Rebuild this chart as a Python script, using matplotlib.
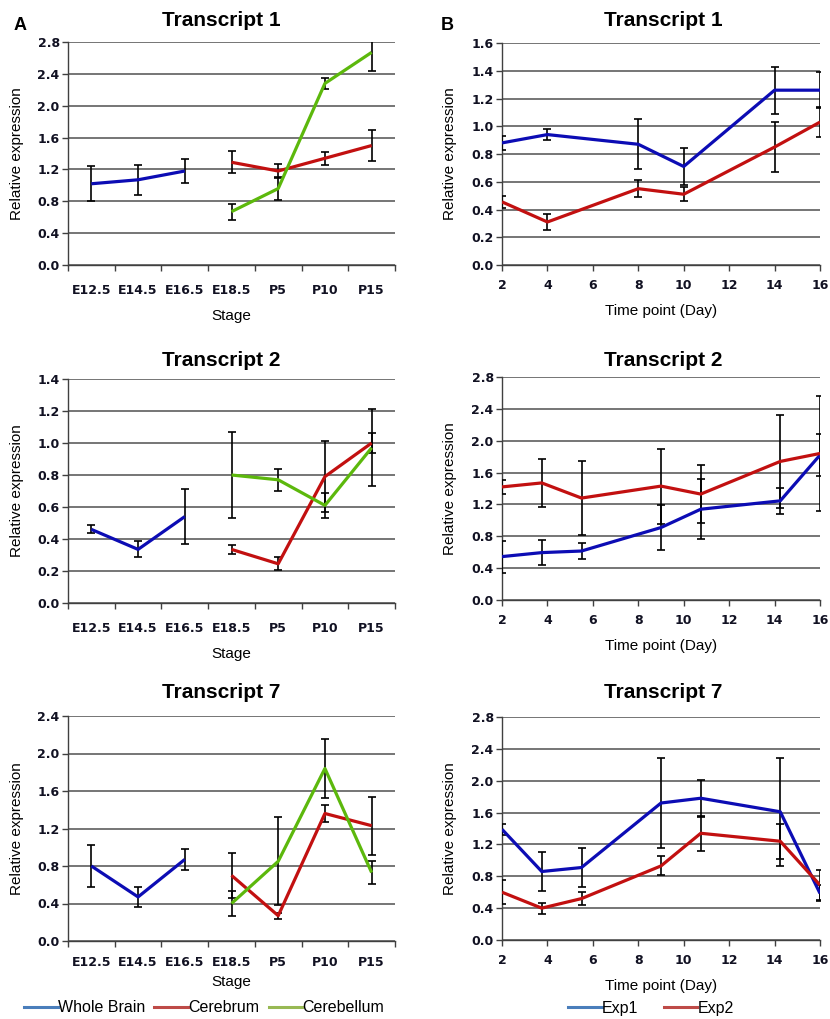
import numpy as np
import matplotlib.pyplot as plt

# ---- data ----
stages = ['E12.5', 'E14.5', 'E16.5', 'E18.5', 'P5', 'P10', 'P15']
brain_idx = [0, 1, 2]
post_idx = [3, 4, 5, 6]

# panel A, transcript 1
a1_brain = [1.02, 1.07, 1.18]
a1_brain_err = [0.22, 0.19, 0.15]
a1_cerebrum = [1.29, 1.18, 1.34, 1.50]
a1_cerebrum_err = [0.14, 0.09, 0.08, 0.20]
a1_cerebellum = [0.67, 0.96, 2.28, 2.67]
a1_cerebellum_err = [0.10, 0.14, 0.07, 0.23]

# panel A, transcript 2
a2_brain = [0.46, 0.335, 0.54]
a2_brain_err = [0.025, 0.05, 0.17]
a2_cerebrum = [0.335, 0.245, 0.79, 1.00]
a2_cerebrum_err = [0.03, 0.04, 0.22, 0.06]
a2_cerebellum = [0.80, 0.77, 0.61, 0.97]
a2_cerebellum_err = [0.27, 0.07, 0.08, 0.24]

# panel A, transcript 7
a7_brain = [0.80, 0.47, 0.87]
a7_brain_err = [0.22, 0.11, 0.11]
a7_cerebrum = [0.70, 0.27, 1.36, 1.23]
a7_cerebrum_err = [0.24, 0.03, 0.09, 0.31]
a7_cerebellum = [0.40, 0.85, 1.84, 0.73]
a7_cerebellum_err = [0.13, 0.47, 0.31, 0.12]

# panel B, transcript 1
b1_days = [2, 4, 8, 10, 14, 16]
b1_exp1 = [0.88, 0.94, 0.87, 0.71, 1.26, 1.26]
b1_exp1_err = [0.05, 0.04, 0.18, 0.13, 0.17, 0.13]
b1_exp2 = [0.455, 0.31, 0.55, 0.51, 0.85, 1.03]
b1_exp2_err = [0.045, 0.06, 0.06, 0.05, 0.18, 0.11]

# panel B, transcripts 2 and 7
b_days = [2, 3.75, 5.5, 9.0, 10.75, 14.25, 16]
b2_exp1 = [0.545, 0.595, 0.615, 0.91, 1.14, 1.245, 1.82]
b2_exp1_err = [0.20, 0.16, 0.10, 0.28, 0.38, 0.16, 0.26]
b2_exp2 = [1.42, 1.47, 1.28, 1.43, 1.33, 1.74, 1.84]
b2_exp2_err = [0.09, 0.30, 0.46, 0.47, 0.36, 0.58, 0.72]
b7_exp1 = [1.39, 0.86, 0.91, 1.72, 1.78, 1.61, 0.585]
b7_exp1_err = [0.07, 0.25, 0.24, 0.57, 0.23, 0.68, 0.10]
b7_exp2 = [0.60, 0.40, 0.52, 0.93, 1.34, 1.24, 0.69]
b7_exp2_err = [0.15, 0.07, 0.085, 0.12, 0.22, 0.22, 0.19]

BLUE = '#0c0cb4'
RED = '#c21010'
GREEN = '#5cb80c'
LEG_BLUE = '#4a7ebb'
LEG_RED = '#be4b48'
LEG_GREEN = '#98b954'

W, H = 830, 1019
fig = plt.figure(figsize=(W / 100, H / 100), dpi=100)


def add_axes(left, right, top, bottom):
    return fig.add_axes([left / W, 1 - bottom / H, (right - left) / W, (bottom - top) / H])


def style(ax, ymax, ystep):
    ax.set_ylim(0, ymax)
    ax.set_yticks(np.arange(0, ymax + ystep / 2, ystep))
    ax.set_yticklabels(['%.1f' % v for v in np.arange(0, ymax + ystep / 2, ystep)],
                       fontsize=9, fontweight='bold', family='DejaVu Sans', color='#111122')
    ax.grid(axis='y', color='#505050', lw=1.1)
    ax.set_axisbelow(True)
    for s in ['top', 'right']:
        ax.spines[s].set_visible(False)
    for s in ['left', 'bottom']:
        ax.spines[s].set_color('#404040')
        ax.spines[s].set_linewidth(1.0)
    ax.tick_params(axis='y', length=4, width=1, color='#404040', pad=2)
    ax.set_ylabel('Relative expression', fontsize=11, family='Liberation Sans')


def series(ax, x, y, err, color):
    ax.errorbar(x, y, yerr=err, fmt='none', ecolor='black', elinewidth=1.2,
                capsize=3, capthick=1.2, zorder=3)
    ax.plot(x, y, color=color, lw=2.3, zorder=4, solid_capstyle='butt')


def stage_axes(ax, pad, labelpad):
    ax.set_xlim(-0.5, 6.5)
    ax.set_xticks(np.arange(-0.5, 7, 1))
    ax.set_xticklabels([])
    ax.set_xticks(range(7), minor=True)
    ax.set_xticklabels(stages, minor=True, fontsize=9, fontweight='bold', family='DejaVu Sans',
                       color='#111122')
    ax.tick_params(axis='x', which='major', length=4, width=1, color='#404040')
    ax.tick_params(axis='x', which='minor', length=0, pad=pad)
    ax.set_xlabel('Stage', fontsize=11, family='Liberation Sans', labelpad=labelpad)


def day_axes(ax):
    ax.set_xlim(2, 16)
    ax.set_xticks(range(2, 17, 2))
    ax.set_xticklabels([str(d) for d in range(2, 17, 2)], fontsize=9, fontweight='bold',
                       family='DejaVu Sans', color='#111122')
    ax.tick_params(axis='x', length=4, width=1, color='#404040', pad=6)
    ax.set_xlabel('Time point (Day)', fontsize=11, family='Liberation Sans', labelpad=9)


# ---- panel A ----
a_panels = [
    (42, 265, 2.8, 0.4, 'Transcript 1', 20, 14, 8,
     (a1_brain, a1_brain_err), (a1_cerebrum, a1_cerebrum_err), (a1_cerebellum, a1_cerebellum_err)),
    (379, 603, 1.4, 0.2, 'Transcript 2', 360, 14, 8,
     (a2_brain, a2_brain_err), (a2_cerebrum, a2_cerebrum_err), (a2_cerebellum, a2_cerebellum_err)),
    (716, 941, 2.4, 0.4, 'Transcript 7', 692, 11, 4,
     (a7_brain, a7_brain_err), (a7_cerebrum, a7_cerebrum_err), (a7_cerebellum, a7_cerebellum_err)),
]
for top, bottom, ymax, ystep, title, ty, pad, lpad, br, cr, cb in a_panels:
    ax = add_axes(68, 395, top, bottom)
    style(ax, ymax, ystep)
    stage_axes(ax, pad, lpad)
    series(ax, brain_idx, br[0], br[1], BLUE)
    series(ax, post_idx, cr[0], cr[1], RED)
    series(ax, post_idx, cb[0], cb[1], GREEN)
    ax.yaxis.set_label_coords(-0.135, 0.5)
    fig.text(221 / W, 1 - ty / H, title, ha='center', va='center', fontsize=15,
             fontweight='bold', family='Liberation Sans')

# ---- panel B ----
b_panels = [
    (43, 265, 1.6, 0.2, 'Transcript 1', 20, b1_days, (b1_exp1, b1_exp1_err), (b1_exp2, b1_exp2_err)),
    (377, 600, 2.8, 0.4, 'Transcript 2', 360, b_days, (b2_exp1, b2_exp1_err), (b2_exp2, b2_exp2_err)),
    (717, 940, 2.8, 0.4, 'Transcript 7', 692, b_days, (b7_exp1, b7_exp1_err), (b7_exp2, b7_exp2_err)),
]
for top, bottom, ymax, ystep, title, ty, days, e1, e2 in b_panels:
    ax = add_axes(502, 820, top, bottom)
    style(ax, ymax, ystep)
    day_axes(ax)
    series(ax, days, e1[0], e1[1], BLUE)
    series(ax, days, e2[0], e2[1], RED)
    ax.yaxis.set_label_coords(-0.14, 0.5)
    fig.text(663 / W, 1 - ty / H, title, ha='center', va='center', fontsize=15,
             fontweight='bold', family='Liberation Sans')

fig.text(20 / W, 1 - 26 / H, 'A', ha='center', va='center', fontsize=13,
         fontweight='bold', family='Liberation Sans')
fig.text(447 / W, 1 - 26 / H, 'B', ha='center', va='center', fontsize=13,
         fontweight='bold', family='Liberation Sans')

# ---- legends ----
leg_a = [plt.Line2D([], [], color=c, lw=2.2) for c in [LEG_BLUE, LEG_RED, LEG_GREEN]]
fig.legend(leg_a, ['Whole Brain', 'Cerebrum', 'Cerebellum'], loc='center',
           bbox_to_anchor=(204 / W, 1 - 1008 / H), ncol=3, frameon=False,
           prop={'family': 'Liberation Sans', 'size': 11.5}, handlelength=2.1,
           handletextpad=0.0, columnspacing=0.6)
leg_b = [plt.Line2D([], [], color=c, lw=2.2) for c in [LEG_BLUE, LEG_RED]]
fig.legend(leg_b, ['Exp1', 'Exp2'], loc='center',
           bbox_to_anchor=(651 / W, 1 - 1008 / H), ncol=2, frameon=False,
           prop={'family': 'Liberation Sans', 'size': 11.5}, handlelength=2.1,
           handletextpad=0.0, columnspacing=1.6)

fig.savefig('out.png', dpi=100)
